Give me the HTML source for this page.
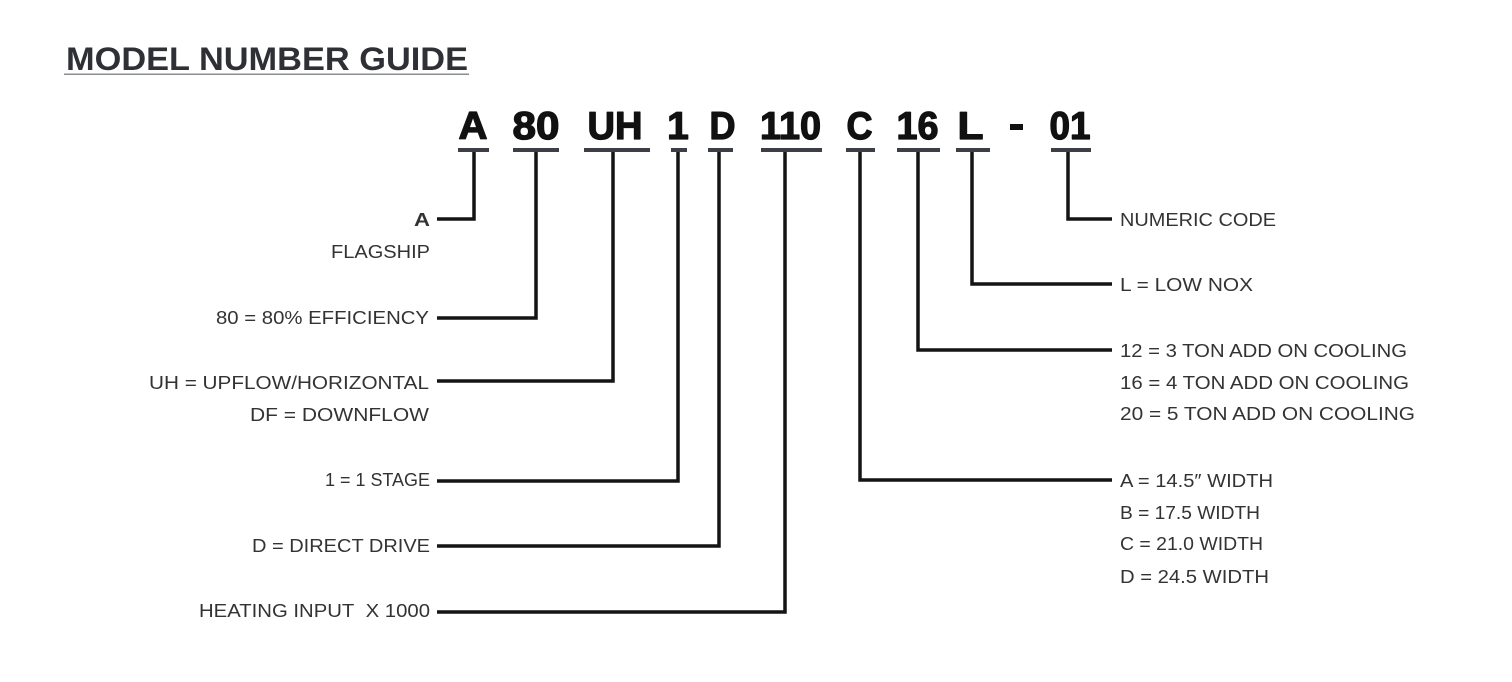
<!DOCTYPE html>
<html>
<head>
<meta charset="utf-8">
<style>
  html,body{margin:0;padding:0;background:#fff;}
  body{width:1512px;height:682px;overflow:hidden;}
  svg{display:block;}
  .t{font-family:"Liberation Sans",Arial,sans-serif;font-size:18px;fill:#333;}
  .code{font-family:"Liberation Sans",Arial,sans-serif;font-size:39px;font-weight:bold;fill:#111;stroke:#111;stroke-width:1.3;stroke-linejoin:round;}
  .ln{fill:none;stroke:#141414;stroke-width:3.5;stroke-linejoin:miter;stroke-linecap:butt;}
  .bar{fill:#3d3f46;}
</style>
</head>
<body>
<svg width="1512" height="682" viewBox="0 0 1512 682" xmlns="http://www.w3.org/2000/svg">
  <!-- Title -->
  <text x="66" y="70" font-family="Liberation Sans, Arial, sans-serif" font-size="32" font-weight="bold" fill="#2e3036" textLength="402" lengthAdjust="spacingAndGlyphs">MODEL NUMBER GUIDE</text>
  <rect x="64" y="73.5" width="405" height="1.5" fill="#8a8c90"/>

  <!-- Code characters -->
  <text class="code" x="458.5" y="139" textLength="29" lengthAdjust="spacingAndGlyphs">A</text>
  <text class="code" x="512.5" y="139" textLength="47" lengthAdjust="spacingAndGlyphs">80</text>
  <text class="code" x="587.5" y="139" textLength="55" lengthAdjust="spacingAndGlyphs">UH</text>
  <text class="code" x="678" y="139" text-anchor="middle">1</text>
  <text class="code" x="709.5" y="139" textLength="26" lengthAdjust="spacingAndGlyphs">D</text>
  <text class="code" x="760" y="139" textLength="61" lengthAdjust="spacingAndGlyphs">110</text>
  <text class="code" x="846.5" y="139" textLength="26" lengthAdjust="spacingAndGlyphs">C</text>
  <text class="code" x="896.5" y="139" textLength="42" lengthAdjust="spacingAndGlyphs">16</text>
  <text class="code" x="957.5" y="139" textLength="26" lengthAdjust="spacingAndGlyphs">L</text>
  <rect x="1010" y="124" width="13" height="6" fill="#111"/>
  <text class="code" x="1049.5" y="139" textLength="41" lengthAdjust="spacingAndGlyphs">01</text>

  <!-- Underline bars -->
  <rect class="bar" x="458" y="148" width="31" height="4"/>
  <rect class="bar" x="513" y="148" width="46" height="4"/>
  <rect class="bar" x="584" y="148" width="66" height="4"/>
  <rect class="bar" x="671" y="148" width="16" height="4"/>
  <rect class="bar" x="708" y="148" width="25" height="4"/>
  <rect class="bar" x="761" y="148" width="61" height="4"/>
  <rect class="bar" x="846" y="148" width="29" height="4"/>
  <rect class="bar" x="897" y="148" width="43" height="4"/>
  <rect class="bar" x="956" y="148" width="34" height="4"/>
  <rect class="bar" x="1051" y="148" width="40" height="4"/>

  <!-- Connectors -->
  <path class="ln" d="M474,152 V219 H437"/>
  <path class="ln" d="M536,152 V318 H437"/>
  <path class="ln" d="M613,152 V381 H437"/>
  <path class="ln" d="M678,152 V481 H437"/>
  <path class="ln" d="M719,152 V546 H437"/>
  <path class="ln" d="M785,152 V612 H437"/>
  <path class="ln" d="M860,152 V480 H1112"/>
  <path class="ln" d="M918,152 V350 H1112"/>
  <path class="ln" d="M972,152 V284 H1112"/>
  <path class="ln" d="M1068,152 V219 H1112"/>

  <!-- Left labels -->
  <text class="t" x="414" y="226" font-weight="bold" fill="#222" textLength="16" lengthAdjust="spacingAndGlyphs">A</text>
  <text class="t" x="331" y="258" textLength="99" lengthAdjust="spacingAndGlyphs">FLAGSHIP</text>
  <text class="t" x="216" y="324" textLength="213" lengthAdjust="spacingAndGlyphs">80 = 80% EFFICIENCY</text>
  <text class="t" x="149" y="389" textLength="280" lengthAdjust="spacingAndGlyphs">UH = UPFLOW/HORIZONTAL</text>
  <text class="t" x="250" y="421" textLength="179" lengthAdjust="spacingAndGlyphs">DF = DOWNFLOW</text>
  <text class="t" x="325" y="486" textLength="105" lengthAdjust="spacingAndGlyphs">1 = 1 STAGE</text>
  <text class="t" x="252" y="552" textLength="178" lengthAdjust="spacingAndGlyphs">D = DIRECT DRIVE</text>
  <text class="t" x="199" y="617" textLength="231" lengthAdjust="spacingAndGlyphs">HEATING INPUT&#160; X 1000</text>

  <!-- Right labels -->
  <text class="t" x="1120" y="226" textLength="156" lengthAdjust="spacingAndGlyphs">NUMERIC CODE</text>
  <text class="t" x="1120" y="291" textLength="133" lengthAdjust="spacingAndGlyphs">L = LOW NOX</text>
  <text class="t" x="1120" y="357" textLength="287" lengthAdjust="spacingAndGlyphs">12 = 3 TON ADD ON COOLING</text>
  <text class="t" x="1120" y="389" textLength="289" lengthAdjust="spacingAndGlyphs">16 = 4 TON ADD ON COOLING</text>
  <text class="t" x="1120" y="420" textLength="295" lengthAdjust="spacingAndGlyphs">20 = 5 TON ADD ON COOLING</text>
  <text class="t" x="1120" y="487" textLength="153" lengthAdjust="spacingAndGlyphs">A = 14.5&#8243; WIDTH</text>
  <text class="t" x="1120" y="519" textLength="140" lengthAdjust="spacingAndGlyphs">B = 17.5 WIDTH</text>
  <text class="t" x="1120" y="550" textLength="143" lengthAdjust="spacingAndGlyphs">C = 21.0 WIDTH</text>
  <text class="t" x="1120" y="583" textLength="149" lengthAdjust="spacingAndGlyphs">D = 24.5 WIDTH</text>
</svg>
</body>
</html>
